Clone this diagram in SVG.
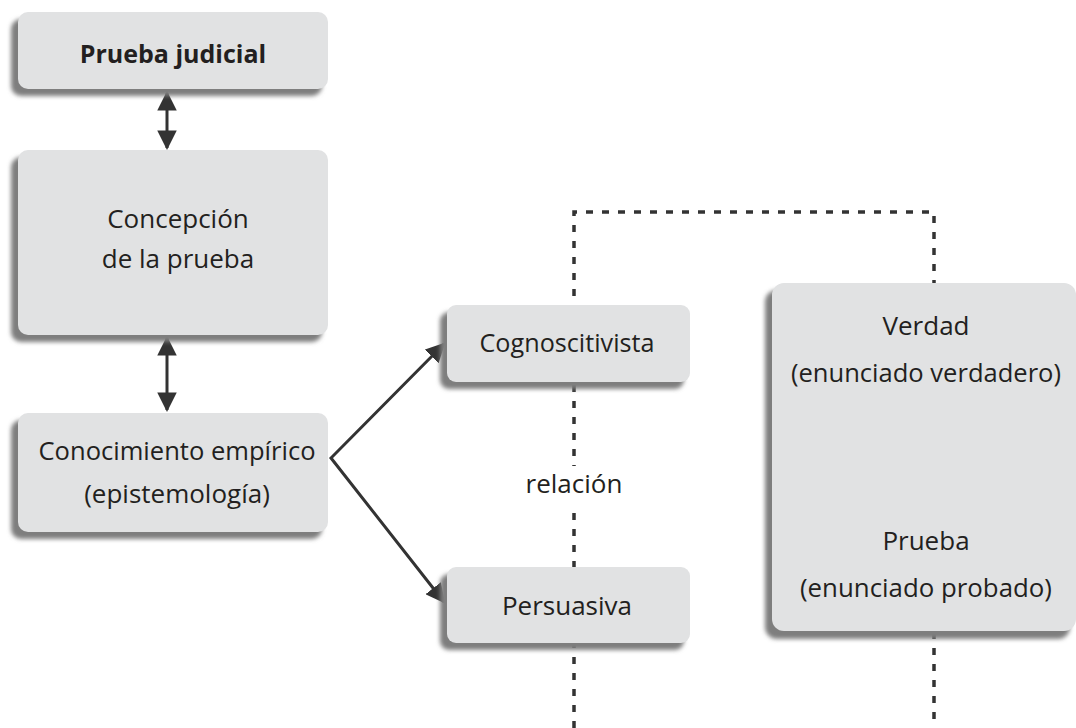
<svg xmlns="http://www.w3.org/2000/svg" width="1076" height="728" viewBox="0 0 1076 728">
<style>
.box{fill:#e1e2e3}
.sh{fill:#7e7e7e;filter:url(#blur)}
.t{font-family:"Open Sans","Noto Sans",sans-serif;font-size:26px;fill:#231f20;text-anchor:middle}
.b{font-weight:bold;font-size:25px}
.arr{stroke:#333;stroke-width:3;fill:none}
.dot{stroke:#333;stroke-width:3.5;fill:none;stroke-dasharray:7 9}
</style>
<defs>
<filter id="blur" x="-10%" y="-10%" width="120%" height="130%"><feGaussianBlur stdDeviation="2"/></filter>
<marker id="ah" viewBox="0 0 10 10" refX="9" refY="5" markerWidth="6.5" markerHeight="6.5" orient="auto-start-reverse" markerUnits="strokeWidth"><path d="M0,0 L10,5 L0,10 z" fill="#333"/></marker>
</defs>
<rect width="1076" height="728" fill="#fff"/>
<g id="connectors">
<path class="dot" d="M574,728 V212 H934 V728"/>
<line class="arr" x1="167" y1="93" x2="167" y2="148" marker-start="url(#ah)" marker-end="url(#ah)"/>
<line class="arr" x1="167" y1="338" x2="167" y2="410" marker-start="url(#ah)" marker-end="url(#ah)"/>
<polyline class="arr" points="444,344 331,458 444,602" marker-start="url(#ah)" marker-end="url(#ah)"/>
</g>
<g id="n1">
<rect class="sh" x="11" y="19" width="311" height="77" rx="10"/>
<rect class="box" x="18" y="12" width="310" height="77" rx="10"/>
<text class="t b" x="173" y="63">Prueba judicial</text>
</g>
<g id="n2">
<rect class="sh" x="11" y="157" width="311" height="185" rx="10"/>
<rect class="box" x="18" y="150" width="310" height="185" rx="10"/>
<text class="t" x="178" y="228">Concepción</text>
<text class="t" x="178" y="268">de la prueba</text>
</g>
<g id="n3">
<rect class="sh" x="11" y="420" width="311" height="119" rx="10"/>
<rect class="box" x="18" y="413" width="310" height="119" rx="10"/>
<text class="t" x="177" y="460" textLength="277" lengthAdjust="spacingAndGlyphs">Conocimiento empírico</text>
<text class="t" x="177" y="503">(epistemología)</text>
</g>
<g id="n4">
<rect class="sh" x="440" y="312" width="244" height="77" rx="9"/>
<rect class="box" x="447" y="305" width="243" height="77" rx="9"/>
<text class="t" x="567" y="352" textLength="175" lengthAdjust="spacingAndGlyphs">Cognoscitivista</text>
</g>
<g id="n5">
<rect class="sh" x="440" y="574" width="244" height="76" rx="9"/>
<rect class="box" x="447" y="567" width="243" height="76" rx="9"/>
<text class="t" x="567" y="615">Persuasiva</text>
</g>
<g id="n6">
<rect class="sh" x="765" y="290" width="305" height="349" rx="12"/>
<rect class="box" x="772" y="283" width="304" height="348" rx="12"/>
<text class="t" x="926" y="335">Verdad</text>
<text class="t" x="926" y="382" textLength="270" lengthAdjust="spacingAndGlyphs">(enunciado verdadero)</text>
<text class="t" x="926" y="550">Prueba</text>
<text class="t" x="926" y="597" textLength="252" lengthAdjust="spacingAndGlyphs">(enunciado probado)</text>
</g>
<g id="label">
<rect x="545" y="466" width="60" height="42" fill="#fff"/>
<text class="t" x="574" y="493">relación</text>
</g>
</svg>
